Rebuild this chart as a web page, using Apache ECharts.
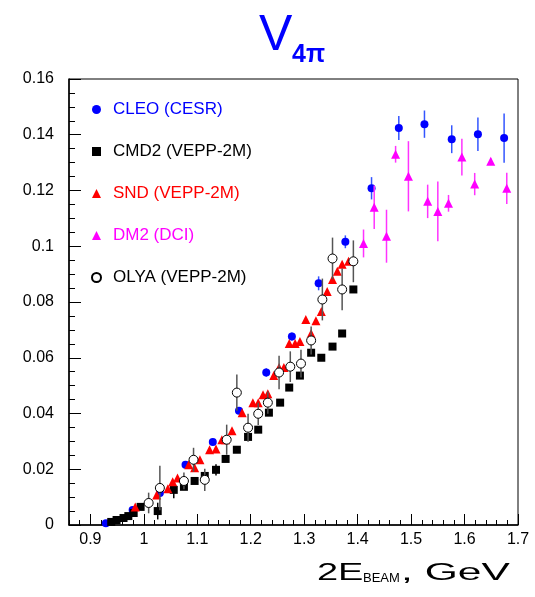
<!DOCTYPE html>
<html>
<head>
<meta charset="utf-8">
<script src="https://cdn.jsdelivr.net/npm/echarts@6/dist/echarts.min.js"></script>
<style>html,body{margin:0;padding:0;background:#fff;}#c{width:535px;height:597px;}</style>
</head>
<body>
<div id="c"></div>
<script>
// ---- data ----
const xTicks = [0.9, 1.0, 1.1, 1.2, 1.3, 1.4, 1.5, 1.6, 1.7];
const xTickLabels = ['0.9', '1', '1.1', '1.2', '1.3', '1.4', '1.5', '1.6', '1.7'];

const cleoX = [0.929, 0.979, 1.030, 1.078, 1.129, 1.178, 1.229, 1.277, 1.327, 1.377, 1.426, 1.477, 1.525, 1.576, 1.625, 1.674];
const cleoY = [0.0006, 0.0054, 0.0115, 0.0216, 0.0298, 0.0410, 0.0547, 0.0676, 0.0867, 0.1016, 0.1208, 0.1424, 0.1438, 0.1384, 0.1402, 0.1388];
const cleoErr = [0.0005, 0.0008, 0.001, 0.001, 0.0012, 0.0012, 0.0015, 0.0015, 0.0025, 0.0023, 0.004, 0.0043, 0.0049, 0.005, 0.006, 0.0088];

const cmd2X = [0.939, 0.949, 0.962, 0.971, 0.981, 0.994, 1.026, 1.056, 1.075, 1.095, 1.114, 1.135, 1.153, 1.174, 1.195, 1.214, 1.234, 1.255, 1.272, 1.292, 1.313, 1.332, 1.353, 1.371, 1.392];
const cmd2Y = [0.0011, 0.0018, 0.0025, 0.0032, 0.0043, 0.0065, 0.0050, 0.0126, 0.0137, 0.0158, 0.0176, 0.0198, 0.0237, 0.0270, 0.0316, 0.0342, 0.0403, 0.0439, 0.0493, 0.0536, 0.0618, 0.0600, 0.0640, 0.0687, 0.0845];
const cmd2Err = [0.0003, 0.0003, 0.0003, 0.0003, 0.0004, 0.0005, 0.003, 0.003, 0.001, 0.001, 0.001, 0.002, 0.001, 0.001, 0.001, 0.001, 0.001, 0.001, 0.001, 0.001, 0.001, 0.001, 0.001, 0.001, 0.001];

const sndX = [0.984, 1.024, 1.045, 1.054, 1.063, 1.084, 1.095, 1.105, 1.123, 1.135, 1.146, 1.153, 1.165, 1.184, 1.204, 1.214, 1.223, 1.232, 1.243, 1.253, 1.262, 1.272, 1.283, 1.292, 1.303, 1.313, 1.322, 1.332, 1.343, 1.353, 1.362, 1.371, 1.383];
const sndY = [0.0065, 0.0108, 0.0130, 0.0155, 0.0169, 0.0216, 0.0205, 0.0234, 0.0270, 0.0273, 0.0306, 0.0306, 0.0338, 0.0403, 0.0439, 0.0439, 0.0467, 0.0471, 0.0536, 0.0565, 0.0565, 0.0651, 0.0651, 0.0658, 0.0737, 0.0687, 0.0733, 0.0766, 0.0838, 0.0881, 0.0910, 0.0935, 0.0946];

const dm2X = [1.411, 1.431, 1.454, 1.471, 1.495, 1.531, 1.550, 1.570, 1.595, 1.619, 1.649, 1.679];
const dm2Y = [0.1010, 0.1140, 0.1036, 0.1330, 0.1251, 0.1161, 0.1125, 0.1154, 0.1320, 0.1223, 0.1305, 0.1208];
const dm2Err = [0.005, 0.0078, 0.0095, 0.003, 0.0126, 0.006, 0.0107, 0.003, 0.0066, 0.004, 0.001, 0.0056];

const olyaX = [1.009, 1.030, 1.075, 1.093, 1.114, 1.155, 1.174, 1.195, 1.214, 1.232, 1.253, 1.274, 1.294, 1.313, 1.334, 1.353, 1.371, 1.392];
const olyaY = [0.0079, 0.0133, 0.0158, 0.0234, 0.0162, 0.0306, 0.0475, 0.0349, 0.0399, 0.0439, 0.0547, 0.0568, 0.0579, 0.0662, 0.0809, 0.0956, 0.0845, 0.0946];
const olyaErr = [0.0037, 0.008, 0.003, 0.0043, 0.004, 0.0054, 0.0065, 0.005, 0.004, 0.004, 0.006, 0.0055, 0.005, 0.005, 0.0075, 0.0075, 0.0075, 0.0075];

// ---- chart ----
const FONT = "'Liberation Sans', Arial, sans-serif";
const minorX = [];
for (let i = 0; i <= 42; i++) { const v = +(0.86 + i * 0.02).toFixed(2); if (v <= 1.7) minorX.push(v); }

function pts(xs, ys) { return xs.map((x, i) => [x, ys[i]]); }
function errPts(xs, ys, es) { return xs.map((x, i) => [x, ys[i], es[i]]); }
function errSeries(name, xs, ys, es, color, z) {
  return {
    type: 'custom', name: name, z: z, silent: true,
    data: errPts(xs, ys, es),
    encode: { x: 0, y: 1 },
    renderItem: function (params, api) {
      const x = api.value(0), y = api.value(1), e = api.value(2);
      const p1 = api.coord([x, y - e]), p2 = api.coord([x, y + e]);
      return { type: 'line', shape: { x1: p1[0], y1: p1[1], x2: p2[0], y2: p2[1] }, style: { stroke: color, lineWidth: 1.5 } };
    }
  };
}

const chart = echarts.init(document.getElementById('c'), null, { renderer: 'canvas' });
chart.setOption({
  animation: false,
  backgroundColor: '#fff',
  textStyle: { fontFamily: FONT },
  grid: { left: 69, right: 17, top: 79, bottom: 72, show: true, borderColor: '#000', borderWidth: 1, backgroundColor: 'transparent' },
  graphic: [
    { type: 'text', x: 259, y: 61, style: { text: 'V', fontSize: 50, fill: '#0000ff', fontFamily: FONT, textVerticalAlign: 'bottom' } },
    { type: 'text', x: 292, y: 68, style: { text: '4π', fontSize: 25, fontWeight: 'bold', fill: '#0000ff', fontFamily: FONT, textVerticalAlign: 'bottom' } },
    { type: 'text', x: 317, y: 585, scaleX: 1.65, style: { text: '2E', fontSize: 23, fill: '#000', fontFamily: FONT, textVerticalAlign: 'bottom' } },
    { type: 'text', x: 363, y: 585, style: { text: 'BEAM', fontSize: 13, fill: '#000', fontFamily: FONT, textVerticalAlign: 'bottom' } },
    { type: 'text', x: 401, y: 585, scaleX: 1.85, style: { text: ', GeV', fontSize: 23, fill: '#000', fontFamily: FONT, textVerticalAlign: 'bottom' } }
  ],
  legend: {
    orient: 'vertical', left: 86, top: 96,
    itemWidth: 9, itemHeight: 9, itemGap: 25,
    textStyle: { fontSize: 17, fontFamily: FONT, padding: [0, 0, 0, 7] },
    data: [
      { name: 'CLEO (CESR)', textStyle: { color: '#0000ff' } },
      { name: 'CMD2 (VEPP-2M)', textStyle: { color: '#000' } },
      { name: 'SND (VEPP-2M)', textStyle: { color: '#ff0000' } },
      { name: 'DM2 (DCI)', textStyle: { color: '#ff00ff' } },
      { name: 'OLYA (VEPP-2M)', textStyle: { color: '#000' } }
    ]
  },
  xAxis: [
    {
      type: 'value', min: 0.86, max: 1.7, position: 'bottom',
      axisLine: { show: true, lineStyle: { color: '#000', width: 1.5 } },
      axisTick: { show: true, inside: true, length: 11, customValues: xTicks, lineStyle: { color: '#000' } },
      axisLabel: {
        show: true, customValues: xTicks, margin: 7, fontSize: 16, color: '#000', fontFamily: FONT,
        formatter: function (v) { const i = xTicks.findIndex(t => Math.abs(t - v) < 1e-6); return i >= 0 ? xTickLabels[i] : ''; }
      },
      splitLine: { show: false }
    },
    {
      type: 'value', min: 0.86, max: 1.7, position: 'bottom',
      axisLine: { show: false },
      axisTick: { show: true, inside: true, length: 5, customValues: minorX, lineStyle: { color: '#000' } },
      axisLabel: { show: false },
      splitLine: { show: false }
    }
  ],
  yAxis: {
    type: 'value', min: 0, max: 0.16, interval: 0.02,
    axisLine: { show: true, lineStyle: { color: '#000', width: 1.5 } },
    axisTick: { show: true, inside: true, length: 12, lineStyle: { color: '#000' } },
    minorTick: { show: true, splitNumber: 4, length: 6, lineStyle: { color: '#000' } },
    axisLabel: { fontSize: 16, color: '#000', margin: 15, fontFamily: FONT, formatter: function (v) { return String(+v.toFixed(2)); } },
    splitLine: { show: false }
  },
  series: [
    errSeries('cleoErr', cleoX, cleoY, cleoErr, '#3355ff', 2),
    { type: 'scatter', name: 'CLEO (CESR)', z: 3, symbol: 'circle', symbolSize: 8, itemStyle: { color: '#0000ff', opacity: 1 }, data: pts(cleoX, cleoY) },
    errSeries('cmd2Err', cmd2X, cmd2Y, cmd2Err, '#000', 4),
    { type: 'scatter', name: 'CMD2 (VEPP-2M)', z: 5, symbol: 'rect', symbolSize: 8, itemStyle: { color: '#000', opacity: 1 }, data: pts(cmd2X, cmd2Y) },
    { type: 'scatter', name: 'SND (VEPP-2M)', z: 6, symbol: 'triangle', symbolSize: 9, itemStyle: { color: '#ff0000', opacity: 1 }, data: pts(sndX, sndY) },
    errSeries('dm2Err', dm2X, dm2Y, dm2Err, '#ff33ff', 7),
    { type: 'scatter', name: 'DM2 (DCI)', z: 8, symbol: 'triangle', symbolSize: 9, itemStyle: { color: '#ff00ff', opacity: 1 }, data: pts(dm2X, dm2Y) },
    errSeries('olyaErr', olyaX, olyaY, olyaErr, '#555', 9),
    { type: 'scatter', name: 'OLYA (VEPP-2M)', z: 10, symbol: 'circle', symbolSize: 9, itemStyle: { color: '#fff', borderColor: '#000', borderWidth: 1, opacity: 1 }, data: pts(olyaX, olyaY) }
  ]
});
</script>
</body>
</html>
